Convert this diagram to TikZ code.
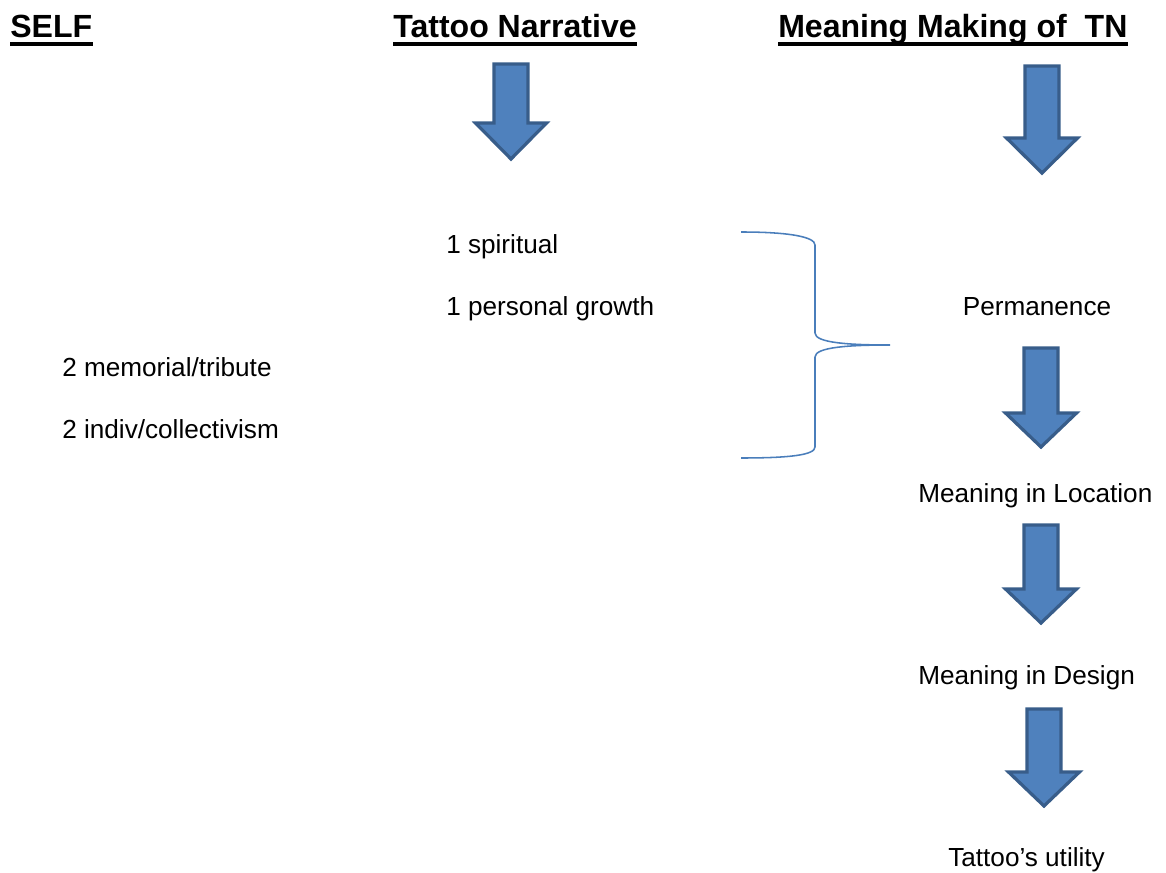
\documentclass[tikz,border=0pt]{standalone}
\usepackage{fontspec}
\setmainfont{Liberation Sans}
\definecolor{arrowfill}{HTML}{4F81BD}
\definecolor{arrowline}{HTML}{385D8A}
\definecolor{bracecol}{HTML}{4A7EBB}
\tikzset{
  heading/.style={font=\fontsize{22.8}{27}\selectfont\bfseries, anchor=base west, inner sep=0pt},
  label/.style={font=\fontsize{18.6}{22}\selectfont, anchor=base west, inner sep=0pt},
  uline/.style={line width=2.4pt},
  blockarrow/.style={fill=arrowfill, draw=arrowline, line width=2.3pt, line join=miter}
}
% down block arrow: centre x, top y, head y, tip y (pixels, y downwards)
\newcommand{\downblock}[4]{%
  \draw[blockarrow] ({#1-17},{-#2}) -- ({#1+17},{-#2}) -- ({#1+17},{-#3})
    -- ({#1+35.5},{-#3}) -- ({#1},{-#4}) -- ({#1-35.5},{-#3}) -- ({#1-17},{-#3}) -- cycle;}
\begin{document}
\begin{tikzpicture}[x=0.025cm, y=0.025cm]
  \useasboundingbox (0,0) rectangle (1166,-873);

  % column headings
  \node[heading] (self) at (10,-38) {SELF};
  \node[heading] (narr) at (393,-38) {Tattoo Narrative};
  \node[heading] (mean) at (778,-38) {Meaning Making of~~TN};
  \foreach \h in {self, narr, mean}
    \draw[uline] ([yshift=-0.15cm]\h.base west) -- ([yshift=-0.15cm]\h.base east);

  % arrows under the headings
  \downblock{511}{64}{123}{159}
  \downblock{1042}{66}{138}{173}

  % themes
  \node[label] (spirit) at (446,-254) {1 spiritual};
  \node[label] (growth) at (446,-315) {1 personal growth};
  \node[label] (memor) at (62,-376) {2 memorial/tribute};
  \node[label] (indiv) at (62,-438) {2 indiv/collectivism};

  % brace
  \draw[bracecol, line width=1.1pt]
    (741,-232) .. controls (790,-232) and (815,-237) .. (815,-245) -- (815,-333)
    .. controls (815,-343) and (850,-345) .. (890,-345)
    .. controls (850,-345) and (815,-347) .. (815,-357) -- (815,-447)
    .. controls (815,-455) and (790,-458) .. (741,-458);

  % meaning making chain
  \node[label, anchor=base] (perm) at (1037,-315) {Permanence};
  \downblock{1041}{348}{413}{447}
  \node[label] (loc) at (918,-502) {Meaning in Location};
  \downblock{1041}{525}{589}{623}
  \node[label] (design) at (918,-684) {Meaning in Design};
  \downblock{1044}{709}{772}{806}
  \node[label] (util) at (948,-866) {Tattoo’s utility};
\end{tikzpicture}
\end{document}
